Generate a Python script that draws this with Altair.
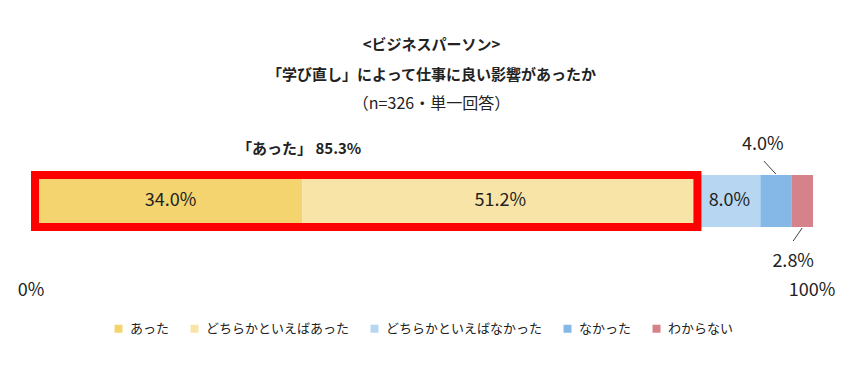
import altair as alt
import pandas as pd

# ---- data ----
group = ["ビジネスパーソン"]
categories = ["あった", "どちらかといえばあった", "どちらかといえばなかった", "なかった", "わからない"]
values = [34.0, 51.2, 8.0, 4.0, 2.8]
colors = ["#F3D46E", "#F8E4A7", "#B7D6F1", "#85B8E6", "#D6828A"]
top2_label = "「あった」 85.3%"
axis_ends = [0, 100]
axis_end_labels = ["0%", "100%"]
title_lines = ["<ビジネスパーソン>", "「学び直し」によって仕事に良い影響があったか"]
subtitle = "（n=326・単一回答）"

FONT = "Noto Sans CJK JP"
TXT = "#222222"
NUM = 18

# derived table
rows = []
start = 0.0
for c, v in zip(categories, values):
    rows.append({"g": group[0], "cat": c, "v": v, "start": start, "end": start + v,
                 "mid": start + v / 2, "label": f"{v:.1f}%"})
    start += v
df = pd.DataFrame(rows)
inside = df.iloc[:3]
above = df.iloc[[3]]
below = df.iloc[[4]]
box = pd.DataFrame({"g": group, "x0": [0.0], "x1": [values[0] + values[1]], "label": [top2_label]})
ends = pd.DataFrame({"g": group * 2, "x": axis_ends, "label": axis_end_labels})

xs = alt.Scale(domain=[0, 100], range=[31, 805], nice=False, zero=False)
ys = alt.Scale(domain=group, range=[57, 109], paddingInner=0, paddingOuter=0)
Y = alt.Y("g:N", scale=ys, axis=None)

bars = alt.Chart(df).mark_rect().encode(
    x=alt.X("start:Q", scale=xs, axis=None),
    x2="end:Q",
    y=Y,
    color=alt.Color(
        "cat:N",
        scale=alt.Scale(domain=categories, range=colors),
        sort=categories,
        legend=alt.Legend(
            title=None, orient="none", direction="horizontal",
            legendX=104, legendY=204,
            symbolType="square", symbolSize=64, symbolStrokeWidth=0,
            labelFontSize=13, labelFont=FONT, labelColor=TXT,
            labelOffset=5, columnPadding=18, labelLimit=300,
        ),
    ),
)

redbox = alt.Chart(box).mark_rect(
    filled=False, stroke="#FF0000", strokeWidth=8, xOffset=-4, x2Offset=-1,
).encode(x=alt.X("x0:Q", scale=xs), x2="x1:Q", y=Y)

lab_in = alt.Chart(inside).mark_text(fontSize=NUM, font=FONT, color=TXT).encode(
    x=alt.X("mid:Q", scale=xs), y=Y, text="label:N")

lab_above = alt.Chart(above).mark_text(fontSize=NUM, font=FONT, color=TXT, dx=-13, dy=-56).encode(
    x=alt.X("mid:Q", scale=xs), y=Y, text="label:N")
lab_below = alt.Chart(below).mark_text(fontSize=NUM, font=FONT, color=TXT, dx=-9, dy=61).encode(
    x=alt.X("mid:Q", scale=xs), y=Y, text="label:N")

lead_above = alt.Chart(above).mark_rule(color="#404040", strokeWidth=1, xOffset=-12).encode(
    x=alt.X("mid:Q", scale=xs), x2="mid:Q", y=alt.value(43), y2=alt.value(56))
lead_below = alt.Chart(below).mark_rule(color="#404040", strokeWidth=1, x2Offset=-9).encode(
    x=alt.X("mid:Q", scale=xs), x2="mid:Q", y=alt.value(110), y2=alt.value(123))

top2 = alt.Chart(box).mark_text(fontSize=15, font=FONT, fontWeight="bold", color=TXT,
                                dx=-3, dy=-52).encode(
    x=alt.X("x:Q", scale=xs), y=Y, text="label:N"
).transform_calculate(x=f"{values[0]}")

end_0 = alt.Chart(ends.iloc[[0]]).mark_text(fontSize=NUM, font=FONT, color=TXT, dx=-8, dy=90).encode(
    x=alt.X("x:Q", scale=xs), y=Y, text="label:N")
end_100 = alt.Chart(ends.iloc[[1]]).mark_text(fontSize=NUM, font=FONT, color=TXT, dx=-1, dy=90).encode(
    x=alt.X("x:Q", scale=xs), y=Y, text="label:N")

chart = alt.layer(
    bars, redbox, lab_in, lab_above, lab_below, lead_above, lead_below, top2, end_0, end_100
).properties(
    width=847, height=253,
    autosize=alt.AutoSizeParams(type="none"),
    padding={"left": 0, "right": 0, "top": 110, "bottom": 0},
    title=alt.TitleParams(
        text=title_lines, subtitle=subtitle, anchor="middle",
        font=FONT, fontSize=15, fontWeight="bold", color=TXT, lineHeight=30,
        subtitleFont=FONT, subtitleFontSize=16, subtitleFontWeight="normal",
        subtitleColor=TXT, subtitlePadding=13, offset=6,
    ),
).configure(font=FONT).configure_view(stroke=None)

chart.save("out.html", embed_options={"renderer": "svg", "actions": False})
